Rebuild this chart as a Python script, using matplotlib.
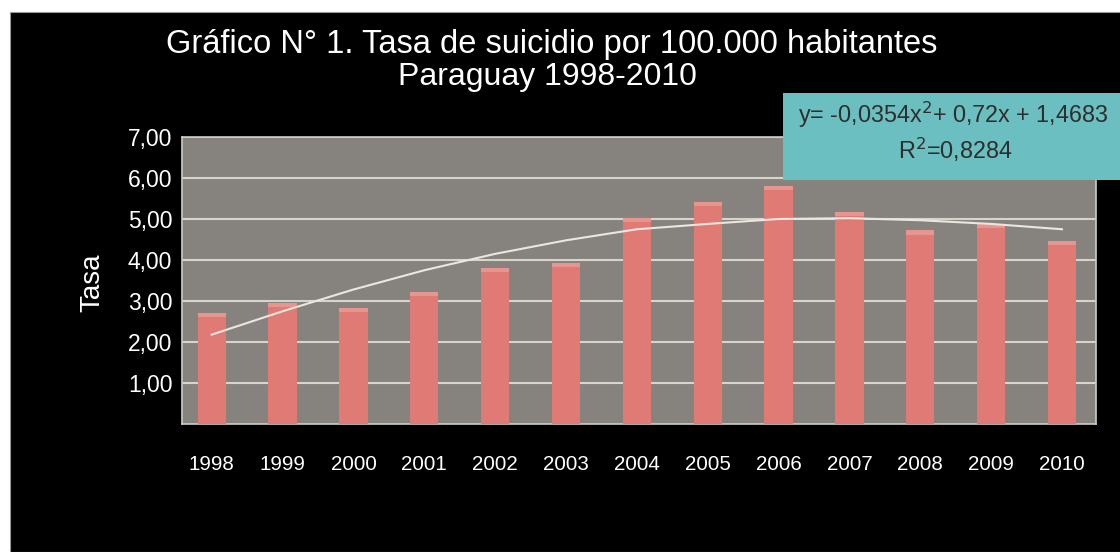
import numpy as np
import matplotlib.pyplot as plt
from matplotlib.patches import Rectangle

years = ["1998", "1999", "2000", "2001", "2002", "2003", "2004",
         "2005", "2006", "2007", "2008", "2009", "2010"]
tasa = [2.71, 2.95, 2.83, 3.22, 3.80, 3.92, 5.02, 5.42, 5.80, 5.18, 4.72, 4.88, 4.46]
# tendencia polinomica
tendencia = [2.18, 2.75, 3.28, 3.75, 4.15, 4.48, 4.75, 4.88, 5.00, 5.02, 4.97, 4.88, 4.75]
yticks = [1, 2, 3, 4, 5, 6, 7]
ytick_labels = ["1,00", "2,00", "3,00", "4,00", "5,00", "6,00", "7,00"]


def main():
    plt.rcParams['font.family'] = ['Liberation Sans', 'DejaVu Sans']
    fig = plt.figure(figsize=(11.2, 5.52), dpi=100, facecolor='white')

    # fondo negro de la diapositiva
    fig.patches.append(Rectangle((10 / 1120, 0), 1, 1 - 12 / 552, transform=fig.transFigure,
                                 facecolor='black', edgecolor='#999999', lw=0.8, zorder=-5))

    ax = fig.add_axes([182 / 1120, 1 - 424 / 552, 914 / 1120, 287 / 552])
    ax.set_facecolor('#86827d')

    x = np.arange(len(years))
    tasa_arr = np.array(tasa)
    ax.bar(x, tasa_arr, width=0.4, color='#df7a75', zorder=3)
    # brillo suave en la parte superior de cada barra
    ax.bar(x, 0.1, bottom=tasa_arr - 0.1, width=0.4, color='#e8948f', zorder=3.5)
    ax.plot(x, tendencia, '-', color='#ece6de', lw=1.5, zorder=4)

    ax.set_xlim(-0.42, 12.48)
    ax.set_ylim(0, 7)
    ax.set_yticks(yticks)
    ax.set_yticklabels(ytick_labels)
    ax.set_xticks(x)
    ax.set_xticklabels(years)
    ax.grid(axis='y', color='#d8d4cc', lw=1.5, zorder=1)
    ax.tick_params(length=0, colors='white')
    ax.tick_params(axis='x', pad=22, labelsize=14.8)
    ax.tick_params(axis='y', pad=7, labelsize=16.5)
    for s in ax.spines.values():
        s.set_color('#cfcbc4')
        s.set_linewidth(1.2)

    fig.text(92 / 1120, 1 - 283 / 552, "Tasa", rotation=90, color='white',
             fontsize=20, ha='center', va='center')

    fig.text(552 / 1120, 1 - 45 / 552, "Gráfico N° 1. Tasa de suicidio por 100.000 habitantes",
             color='white', fontsize=23.5, ha='center', va='center')
    fig.text(547 / 1120, 1 - 77 / 552, "Paraguay 1998-2010",
             color='white', fontsize=23, ha='center', va='center')

    # cuadro con la ecuacion
    fig.patches.append(Rectangle((783 / 1120, 1 - 180 / 552), (1120 - 783) / 1120, 87 / 552,
                                 transform=fig.transFigure, facecolor='#6bbfc0',
                                 edgecolor='none', zorder=5))
    fig.text(953 / 1120, 1 - 115 / 552, "y= -0,0354x$^2$+ 0,72x + 1,4683",
             color='#2e2e2e', fontsize=16.8, ha='center', va='center', zorder=6)
    fig.text(955 / 1120, 1 - 150 / 552, "R$^2$=0,8284",
             color='#2e2e2e', fontsize=16.8, ha='center', va='center', zorder=6)

    plt.savefig('out.png', dpi=100, facecolor=fig.get_facecolor())


if __name__ == '__main__':
    main()
